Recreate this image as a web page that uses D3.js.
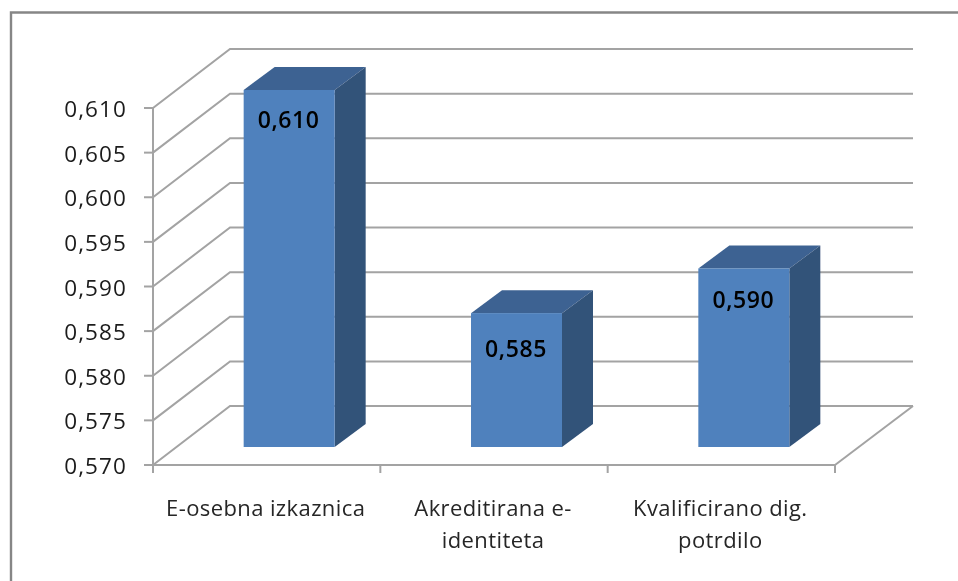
<!DOCTYPE html>
<html><head><meta charset="utf-8">
<script src="https://cdn.jsdelivr.net/npm/d3@7"></script>
<style>html,body{margin:0;padding:0;background:#fff}svg{display:block}text{font-family:"Open Sans","Noto Sans",sans-serif}</style>
</head><body><svg id="c" width="958" height="581"></svg>
<script>
const categories = ["E-osebna izkaznica", "Akreditirana e-|identiteta", "Kvalificirano dig.|potrdilo"];
const values = [0.610, 0.585, 0.590];
const valueLabels = ["0,610", "0,585", "0,590"];
const ticks = [0.570, 0.575, 0.580, 0.585, 0.590, 0.595, 0.600, 0.605, 0.610];
const tickLabels = ["0,570", "0,575", "0,580", "0,585", "0,590", "0,595", "0,600", "0,605", "0,610"];
const labelDrops = [31.5, 38, 33.5];

const svg = d3.select("#c");
const H = 581, W = 958;
const grid = "#a3a3a3";
const defs = svg.append("defs");
defs.append("filter").attr("id","soft").attr("x","-5%").attr("y","-5%").attr("width","110%").attr("height","110%")
  .append("feGaussianBlur").attr("stdDeviation",0.45);

const root = svg.append("g").attr("filter","url(#soft)");
root.append("path").attr("fill","none").attr("stroke","#868686").attr("stroke-width",2.4)
  .attr("d",d3.line()([[11,H+5],[11,12.5],[W+5,12.5]]));

const y = d3.scaleLinear().domain([0.570,0.610]).range([465,108]);
const x = d3.scaleBand().domain(categories).range([153,835]);
const depth = {dx:77, dy:-59};
const bar = {w:91, dx:31, dy:-23, lift:18, shift:22.5};

const g = root.append("g");
ticks.forEach((t,i)=>{
  const yy=y(t);
  g.append("path").attr("fill","none").attr("stroke",grid).attr("stroke-width",2)
   .attr("d",d3.line()([[153,yy],[153+depth.dx,yy+depth.dy],[913,yy+depth.dy]]));
  g.append("line").attr("x1",144).attr("x2",153).attr("y1",yy).attr("y2",yy).attr("stroke",grid).attr("stroke-width",2);
  g.append("text").attr("x",127).attr("y",yy+3).attr("text-anchor","end").attr("dominant-baseline","middle")
   .attr("font-size",22.5).attr("letter-spacing",1.1).attr("fill","#1a1a1a").text(tickLabels[i]);
});
g.append("line").attr("x1",153).attr("x2",153).attr("y1",y(0.61)).attr("y2",473).attr("stroke",grid).attr("stroke-width",2);
g.append("line").attr("x1",153).attr("x2",835).attr("y1",465).attr("y2",465).attr("stroke",grid).attr("stroke-width",2);
g.append("line").attr("x1",835).attr("x2",913).attr("y1",465).attr("y2",465+depth.dy).attr("stroke",grid).attr("stroke-width",2);
d3.range(4).forEach(i=>{
  const xx=153+i*x.step();
  g.append("line").attr("x1",xx).attr("x2",xx).attr("y1",465).attr("y2",473).attr("stroke",grid).attr("stroke-width",2);
});
categories.forEach((c,i)=>{
  const x0=x(c)+(x.step()-bar.w)/2+bar.shift, x1=x0+bar.w;
  const yb=y(0.570)-bar.lift, yt=y(values[i])-bar.lift;
  g.append("path").attr("fill","#3d6292").attr("d",d3.line()([[x0,yt],[x0+bar.dx,yt+bar.dy],[x1+bar.dx,yt+bar.dy],[x1,yt]])+"Z");
  g.append("path").attr("fill","#335279").attr("d",d3.line()([[x1,yt],[x1+bar.dx,yt+bar.dy],[x1+bar.dx,yb+bar.dy],[x1,yb]])+"Z");
  g.append("rect").attr("x",x0).attr("y",yt).attr("width",bar.w).attr("height",yb-yt).attr("fill","#4f81bd");
  g.append("text").attr("x",x0+bar.w/2-0.5).attr("y",yt+labelDrops[i]).attr("text-anchor","middle").attr("dominant-baseline","middle")
   .attr("font-size",23).attr("font-weight",600).attr("letter-spacing",0.6).attr("fill","#000").text(valueLabels[i]);
  c.split("|").forEach((ln,k)=>{
    g.append("text").attr("x",x(c)+x.step()/2-1).attr("y",510+k*32).attr("text-anchor","middle").attr("dominant-baseline","middle")
     .attr("font-size",22).attr("letter-spacing",0.4).attr("fill","#262626").text(ln);
  });
});
</script></body></html>
